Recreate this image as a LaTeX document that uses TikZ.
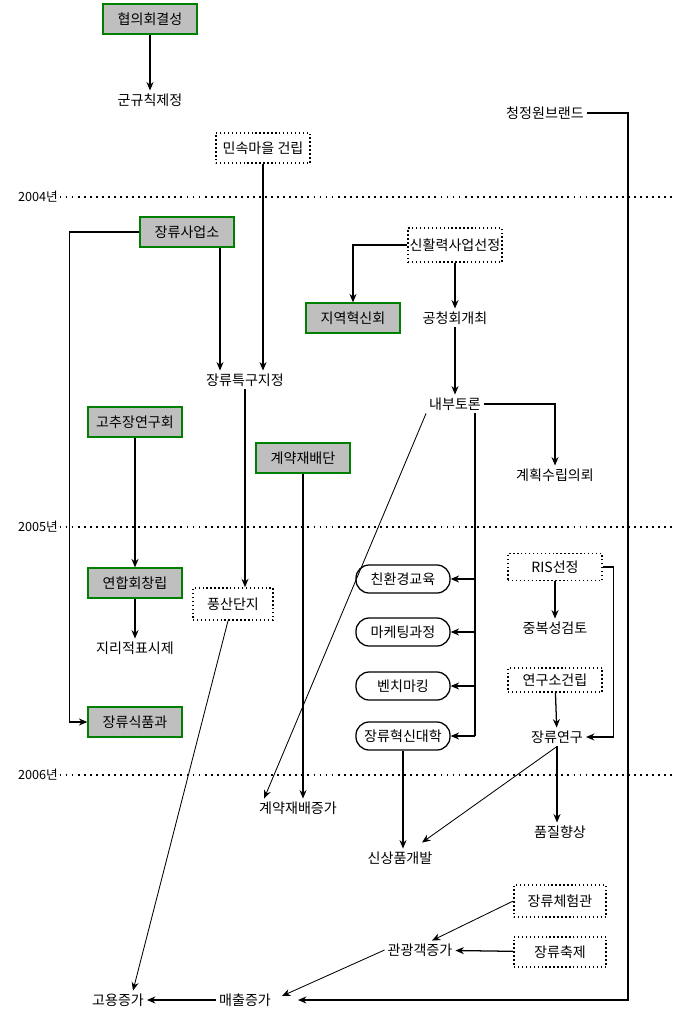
\documentclass[tikz,border=0pt]{standalone}
\usepackage{fontspec}
\setmainfont{Noto Sans CJK KR}
\usepackage{tikz}
\usetikzlibrary{arrows.meta,positioning,calc}

\begin{document}
\begin{tikzpicture}[x=0.025cm, y=-0.025cm, font=\fontsize{10}{12}\selectfont,
		arr/.style={-{Stealth[length=6pt,width=5pt]}, line width=0.9pt},
		greenbox/.style={draw=green!50!black, fill=gray!50, line width=0.9pt, minimum width=2.35cm, minimum height=0.75cm, inner sep=1pt},
		dotbox/.style={draw, dash pattern=on 1pt off 1.8pt, line width=1.1pt, minimum width=2.35cm, minimum height=0.75cm, inner sep=1pt},
		roundbox/.style={draw, rounded corners=0.33cm, line width=0.9pt, minimum width=2.35cm, minimum height=0.7cm, inner sep=1pt},
		txt/.style={inner sep=2pt},
		yearnode/.style={inner sep=1pt, font=\fontsize{9}{10}\selectfont},
		yearline/.style={line width=1.3pt, dash pattern=on 1.3pt off 3pt}]
		\useasboundingbox (0,0) rectangle (673,1016);
		\coordinate (re) at (673,0);

		% years
		\node[yearnode] (y04) at (38,197) {2004년};
		\node[yearnode] (y05) at (38,527) {2005년};
		\node[yearnode] (y06) at (38,775) {2006년};
		\foreach \y in {y04,y05,y06}
			\draw[yearline] (\y.east) -- (\y.east -| re);

		% boxes and texts
		\node[greenbox] (hyup) at (150,19) {협의회결성};
		\node[txt] (gunrule) at (150,100) {군규칙제정};
		\node[dotbox] (minsok) at (263,148) {민속마을 건립};
		\node[txt] (brand) at (545,113) {청정원브랜드};
		\node[greenbox] (jangsa) at (187,232) {장류사업소};
		\node[txt] (teukgu) at (245,380) {장류특구지정};
		\node[dotbox, minimum height=0.85cm] (sinhwal) at (455,245) {신활력사업선정};
		\node[greenbox] (jiyeok) at (353,318) {지역혁신회};
		\node[txt] (gongcheong) at (455,318) {공청회개최};
		\node[txt] (naebu) at (455,404) {내부토론};
		\node[txt] (gyehoek) at (555,475) {계획수립의뢰};
		\node[greenbox] (gochu) at (135,422) {고추장연구회};
		\node[greenbox] (gyeyak) at (303,458) {계약재배단};
		\node[greenbox] (yeonhap) at (135,583) {연합회창립};
		\node[txt] (jiri) at (135,648) {지리적표시제};
		\node[dotbox, minimum width=2cm, minimum height=0.8cm] (pungsan) at (233,604) {풍산단지};
		\node[roundbox] (eco) at (403,579) {친환경교육};
		\node[roundbox] (market) at (403,632) {마케팅과정};
		\node[roundbox] (bench) at (403,686) {벤치마킹};
		\node[roundbox] (univ) at (403,736) {장류혁신대학};
		\node[dotbox, minimum height=0.68cm] (ris) at (555,567) {RIS선정};
		\node[txt] (dup) at (555,628) {중복성검토};
		\node[dotbox, minimum height=0.6cm] (lab) at (555,680) {연구소건립};
		\node[txt] (research) at (557,737) {장류연구};
		\node[greenbox] (sikpum) at (135,722) {장류식품과};
		\node[txt] (gyeyakinc) at (298,808) {계약재배증가};
		\node[txt] (newprod) at (400,858) {신상품개발};
		\node[txt] (quality) at (560,832) {품질향상};
		\node[dotbox, minimum width=2.3cm, minimum height=0.8cm] (cheheom) at (560,901) {장류체험관};
		\node[txt] (tour) at (420,950) {관광객증가};
		\node[dotbox, minimum width=2.3cm] (festival) at (560,952) {장류축제};
		\node[txt] (sales) at (245,1000) {매출증가};
		\node[txt] (employ) at (118,1000) {고용증가};

		% connectors
		\draw[arr] (hyup) -- (gunrule);
		\draw[arr] (minsok) -- (minsok |- teukgu.north);
		\coordinate (jt) at ($(jangsa.south)+(33,0)$);
		\draw[arr] (jt) -- (jt |- teukgu.north);
		\draw[arr] (jangsa.west) -- ++(-70,0) |- (sikpum.west);
		\draw[arr] (teukgu.south) -- (teukgu.south |- pungsan.north);
		\draw[arr] (sinhwal.west) -| (jiyeok.north);
		\draw[arr] (sinhwal) -- (gongcheong);
		\draw[arr] (gongcheong) -- (naebu);
		\draw[arr] (naebu.east) -| (gyehoek.north);
		\draw[arr, line width=0.6pt] (naebu.south west) -- ($(gyeyakinc.north west)+(8,0)$);
		\coordinate (nv) at ($(naebu.south)+(20,0)$);
		\draw[line width=0.9pt] (nv) -- (nv |- univ.east);
		\foreach \b in {eco,market,bench,univ}
			\draw[arr] (nv |- \b.east) -- (\b.east);
		\draw[arr] (gochu) -- (yeonhap);
		\draw[arr] (gyeyak) -- (gyeyak |- gyeyakinc.north);
		\draw[arr] (yeonhap) -- (jiri);
		\draw[arr, line width=0.6pt] ($(pungsan.south)+(-5,0)$) -- ($(employ.north)+(15,0)$);
		\draw[arr] (ris.east) -- ++(11,0) |- (research.east);
		\draw[arr] (ris) -- (dup);
		\draw[arr] (lab) -- (research);
		\draw[arr] (univ) -- (univ |- newprod.north);
		\draw[arr, line width=0.6pt] (research.south) -- ($(newprod.north)+(22,-6)$);
		\draw[arr] (research.south) -- (research.south |- quality.north);
		\draw[arr, line width=0.6pt] (cheheom.west) -- ($(tour.north)+(12,0)$);
		\draw[arr] (festival) -- (tour);
		\draw[arr, line width=0.6pt] (tour.west) -- ($(sales.east)+(8,-4)$);
		\draw[arr] (brand.east) -- ++(41,0) |- ($(sales.east)+(24,0)$);
		\draw[arr] (sales) -- (employ);
	\end{tikzpicture}
\end{document}
